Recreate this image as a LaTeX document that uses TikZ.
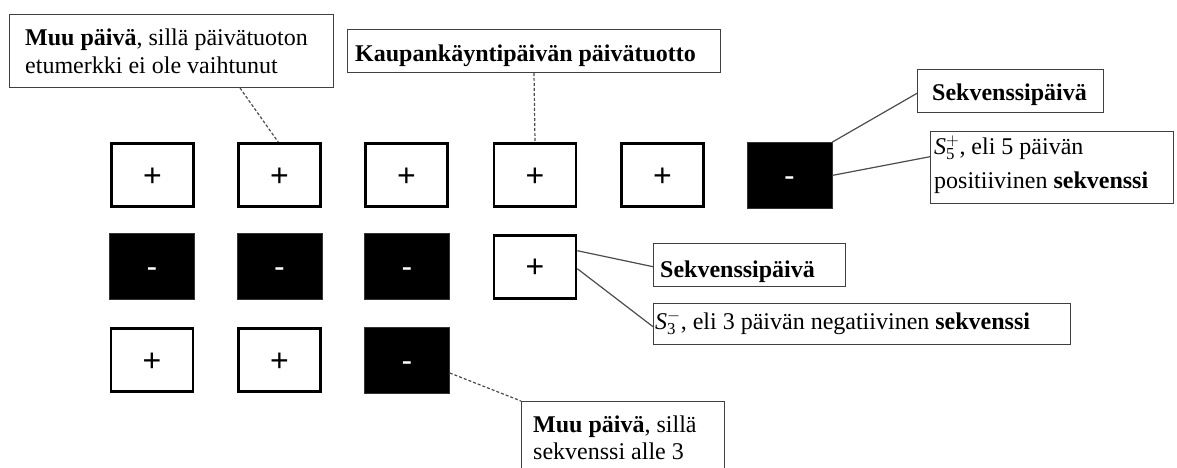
\documentclass[tikz,border=0pt]{standalone}
\usepackage{fix-cm}
\usepackage{fontspec}
\setmainfont{Liberation Serif}
\newfontfamily\signfamily{Liberation Sans}
\usetikzlibrary{calc}
\newcommand\lblfont{\fontsize{24}{27}\selectfont}
\newcommand\signfont{\signfamily\fontsize{32}{32}\selectfont}
\newcommand\seqsym[2]{$\mathit{S}_{\mathrm{#1}}^{#2}$}
\tikzset{
  daybox/.style={minimum width=82pt, minimum height=63pt, inner sep=0pt,
    text height=22pt, text depth=0pt, font=\signfont},
  upday/.style={daybox, draw=black, line width=2.6pt, fill=white},
  downday/.style={daybox, draw=black!80, line width=0.6pt, fill=black, text=white,
    minimum width=85pt, minimum height=66pt},
  lbl/.style={draw=black!75, line width=1.3pt, fill=white, inner sep=0pt},
  txt/.style={anchor=base west, inner sep=0pt, font=\lblfont},
  lead/.style={draw=black!70, line width=1.2pt},
  leaddash/.style={lead, dash pattern=on 3pt off 2pt},
}
\begin{document}
\begin{tikzpicture}[x=1pt, y=-1pt]
\path[use as bounding box, clip] (0,0) rectangle (1177,468);
\fill[white] (0,0) rectangle (1177,468);

% daily returns, row by row
\node[upday] (d11) at (152.5,175) {+};
\node[upday] (d12) at (279.5,175) {+};
\node[upday] (d13) at (406.5,175) {+};
\node[upday] (d14) at (535,175) {+};
\node[upday] (d15) at (662.5,175) {+};
\node[downday] (d16) at (789.5,175.4) {-};

\node[downday] (d21) at (152,266.7) {-};
\node[downday] (d22) at (279.5,266.7) {-};
\node[downday] (d23) at (407,266.7) {-};
\node[upday] (d24) at (535,266.7) {+};

\node[upday] (d31) at (152,360) {+};
\node[upday] (d32) at (279.5,360) {+};
\node[downday] (d33) at (407,360) {-};

% annotation boxes
\node[lbl, minimum width=323.7pt, minimum height=72.7pt] (L1) at (171.5,51) {};
\node[txt] (L1a) at (25,46) {\textbf{Muu päivä}, sillä päivätuoton};
\node[txt] (L1b) at (25,73.3) {etumerkki ei ole vaihtunut};

\node[lbl, minimum width=372.7pt, minimum height=42.7pt] (L2) at (534,51) {};
\node[txt] (L2a) at (355,62) {\textbf{Kaupankäyntipäivän päivätuotto}};

\node[lbl, minimum width=185.7pt, minimum height=42.7pt] (L3) at (1010.5,91) {};
\node[txt] (L3a) at (932,100.5) {\textbf{Sekvenssipäivä}};

\node[lbl, minimum width=242.7pt, minimum height=71.7pt] (L4) at (1052,167.5) {};
\node[txt] (L4a) at (934,154) {\seqsym{5}{+}, eli 5 päivän};
\node[txt] (L4b) at (934,188) {positiivinen \textbf{sekvenssi}};

\node[lbl, minimum width=191.7pt, minimum height=42.7pt] (L5) at (749.5,265) {};
\node[txt] (L5a) at (660,277.5) {\textbf{Sekvenssipäivä}};

\node[lbl, minimum width=416.7pt, minimum height=40.7pt] (L6) at (862,324) {};
\node[txt] (L6a) at (655,329) {\seqsym{3}{-}, eli 3 päivän negatiivinen \textbf{sekvenssi}};

\node[lbl, minimum width=202.7pt, minimum height=87.7pt] (L7) at (623,445.5) {};
\node[txt] (L7a) at (533,432.5) {\textbf{Muu päivä}, sillä};
\node[txt] (L7b) at (533,459) {sekvenssi alle 3};

% leader lines
\draw[leaddash] ([xshift=68.5pt]L1.south) -- ([xshift=-1.2pt]d12.north);
\draw[leaddash] (L2.south) -- (d14.north);
\draw[lead] (d16.north east) -- ([yshift=-2.3pt]L3.west);
\draw[lead] (d16.east) -- ([yshift=10.8pt]L4.west);
\draw[lead] ([yshift=16pt]d24.east) -- ([yshift=-1.7pt]L5.west);
\draw[lead] ([yshift=-2pt]d24.east) -- ([yshift=-2.7pt]L6.west);
\draw[leaddash] ([yshift=-13pt]d33.east) -- (L7.north west);
\end{tikzpicture}
\end{document}
